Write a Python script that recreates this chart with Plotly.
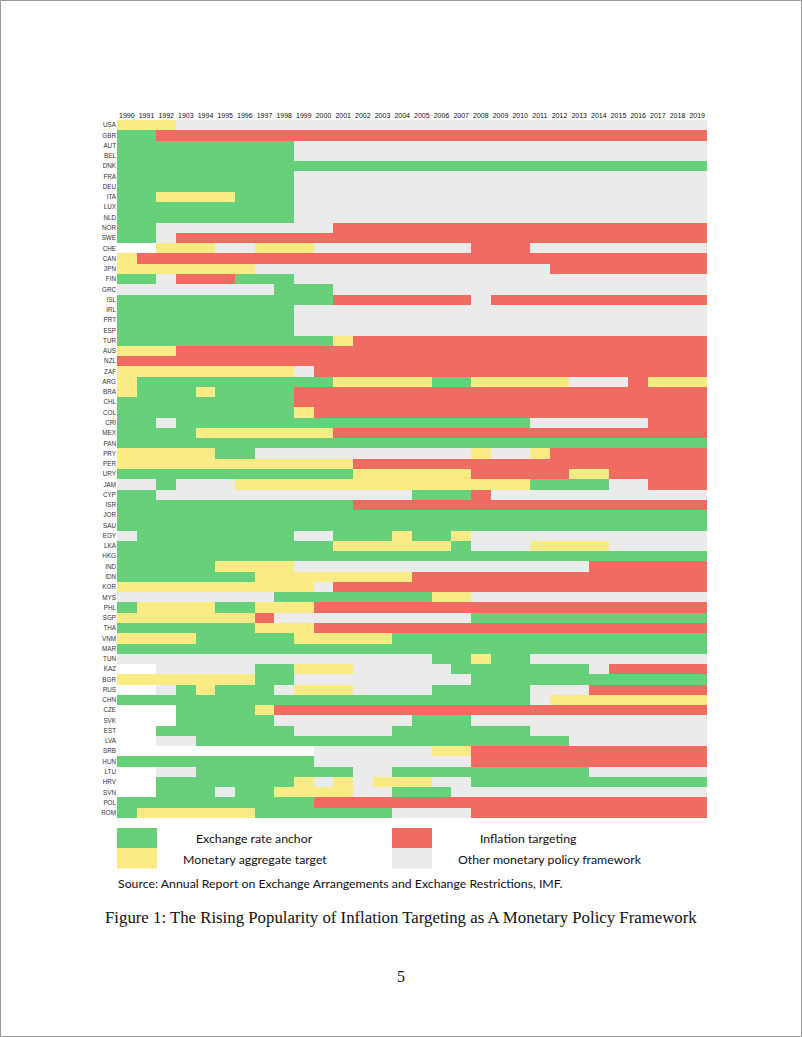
import plotly.graph_objects as go

years = ["1990", "1991", "1992", "1903", "1994", "1995", "1996", "1997", "1998", "1999",
         "2000", "2001", "2002", "2003", "2004", "2005", "2006", "2007", "2008", "2009",
         "2010", "2011", "2012", "2013", "2014", "2015", "2016", "2017", "2018", "2019"]

countries = ["USA", "GBR", "AUT", "BEL", "DNK", "FRA", "DEU", "ITA", "LUX", "NLD",
             "NOR", "SWE", "CHE", "CAN", "JPN", "FIN", "GRC", "ISL", "IRL", "PRT",
             "ESP", "TUR", "AUS", "NZL", "ZAF", "ARG", "BRA", "CHL", "COL", "CRI",
             "MEX", "PAN", "PRY", "PER", "URY", "JAM", "CYP", "ISR", "JOR", "SAU",
             "EGY", "LKA", "HKG", "IND", "IDN", "KOR", "MYS", "PHL", "SGP", "THA",
             "VNM", "MAR", "TUN", "KAZ", "BGR", "RUS", "CHN", "CZE", "SVK", "EST",
             "LVA", "SRB", "HUN", "LTU", "HRV", "SVN", "POL", "ROM"]

# Regime per country as (first year, regime) segments.
# E = exchange rate anchor, M = monetary aggregate target,
# I = inflation targeting, O = other framework, W = no data
regimes = {
    "USA": [(1990, "M"), (1993, "O")],
    "GBR": [(1990, "E"), (1992, "I")],
    "AUT": [(1990, "E"), (1999, "O")],
    "BEL": [(1990, "E"), (1999, "O")],
    "DNK": [(1990, "E")],
    "FRA": [(1990, "E"), (1999, "O")],
    "DEU": [(1990, "E"), (1999, "O")],
    "ITA": [(1990, "E"), (1992, "M"), (1996, "E"), (1999, "O")],
    "LUX": [(1990, "E"), (1999, "O")],
    "NLD": [(1990, "E"), (1999, "O")],
    "NOR": [(1990, "E"), (1992, "O"), (2001, "I")],
    "SWE": [(1990, "E"), (1992, "O"), (1993, "I")],
    "CHE": [(1990, "W"), (1992, "M"), (1995, "O"), (1997, "M"), (2000, "O"), (2008, "I"), (2011, "O")],
    "CAN": [(1990, "M"), (1991, "I")],
    "JPN": [(1990, "M"), (1997, "O"), (2012, "I")],
    "FIN": [(1990, "E"), (1992, "O"), (1993, "I"), (1996, "E"), (1999, "O")],
    "GRC": [(1990, "O"), (1998, "E"), (2001, "O")],
    "ISL": [(1990, "E"), (2001, "I"), (2008, "O"), (2009, "I")],
    "IRL": [(1990, "E"), (1999, "O")],
    "PRT": [(1990, "E"), (1999, "O")],
    "ESP": [(1990, "E"), (1999, "O")],
    "TUR": [(1990, "E"), (2001, "M"), (2002, "I")],
    "AUS": [(1990, "M"), (1993, "I")],
    "NZL": [(1990, "I")],
    "ZAF": [(1990, "M"), (1999, "O"), (2000, "I")],
    "ARG": [(1990, "M"), (1991, "E"), (2001, "M"), (2006, "E"), (2008, "M"), (2013, "O"), (2016, "I"), (2017, "M")],
    "BRA": [(1990, "M"), (1991, "E"), (1994, "M"), (1995, "E"), (1999, "I")],
    "CHL": [(1990, "E"), (1999, "I")],
    "COL": [(1990, "E"), (1999, "M"), (2000, "I")],
    "CRI": [(1990, "E"), (1992, "O"), (1993, "E"), (2011, "O"), (2017, "I")],
    "MEX": [(1990, "E"), (1994, "M"), (2001, "I")],
    "PAN": [(1990, "E")],
    "PRY": [(1990, "M"), (1995, "E"), (1997, "O"), (2008, "M"), (2009, "O"), (2011, "M"), (2012, "I")],
    "PER": [(1990, "M"), (2002, "I")],
    "URY": [(1990, "E"), (2002, "M"), (2008, "I"), (2013, "M"), (2015, "I")],
    "JAM": [(1990, "O"), (1992, "E"), (1993, "O"), (1996, "M"), (2011, "E"), (2015, "O"), (2017, "I")],
    "CYP": [(1990, "E"), (1992, "O"), (2005, "E"), (2008, "I"), (2009, "O")],
    "ISR": [(1990, "E"), (2002, "I")],
    "JOR": [(1990, "E")],
    "SAU": [(1990, "E")],
    "EGY": [(1990, "O"), (1991, "E"), (1999, "O"), (2001, "E"), (2004, "M"), (2005, "E"), (2007, "M"), (2008, "O")],
    "LKA": [(1990, "E"), (2001, "M"), (2007, "E"), (2008, "O"), (2011, "M"), (2015, "O")],
    "HKG": [(1990, "E")],
    "IND": [(1990, "E"), (1995, "M"), (1999, "O"), (2014, "I")],
    "IDN": [(1990, "E"), (1997, "M"), (2005, "I")],
    "KOR": [(1990, "M"), (2000, "O"), (2001, "I")],
    "MYS": [(1990, "O"), (1998, "E"), (2006, "M"), (2008, "O")],
    "PHL": [(1990, "E"), (1991, "M"), (1995, "E"), (1997, "M"), (2000, "I")],
    "SGP": [(1990, "M"), (1997, "I"), (1998, "O"), (2008, "E")],
    "THA": [(1990, "E"), (1997, "M"), (2000, "I")],
    "VNM": [(1990, "M"), (1994, "E"), (1999, "M"), (2004, "E")],
    "MAR": [(1990, "E")],
    "TUN": [(1990, "O"), (2006, "E"), (2008, "M"), (2009, "E"), (2011, "O")],
    "KAZ": [(1990, "W"), (1992, "O"), (1997, "E"), (1999, "M"), (2002, "O"), (2007, "E"), (2014, "O"), (2015, "I")],
    "BGR": [(1990, "M"), (1997, "E"), (1999, "O"), (2008, "E")],
    "RUS": [(1990, "W"), (1992, "O"), (1993, "E"), (1994, "M"), (1995, "E"), (1998, "O"), (1999, "M"), (2002, "O"), (2006, "E"), (2011, "O"), (2014, "I")],
    "CHN": [(1990, "E"), (2011, "O"), (2012, "M")],
    "CZE": [(1990, "W"), (1993, "E"), (1997, "M"), (1998, "I")],
    "SVK": [(1990, "W"), (1993, "E"), (1998, "O"), (2005, "E"), (2008, "O")],
    "EST": [(1990, "W"), (1992, "E"), (1999, "O"), (2004, "E"), (2011, "O")],
    "LVA": [(1990, "W"), (1992, "O"), (1994, "E"), (2013, "O")],
    "SRB": [(1990, "W"), (2000, "O"), (2006, "M"), (2008, "I")],
    "HUN": [(1990, "E"), (2000, "O"), (2008, "I")],
    "LTU": [(1990, "W"), (1992, "O"), (1994, "E"), (2002, "O"), (2004, "E"), (2014, "O")],
    "HRV": [(1990, "W"), (1992, "E"), (1999, "M"), (2000, "O"), (2001, "M"), (2002, "O"), (2003, "M"), (2006, "O"), (2008, "E")],
    "SVN": [(1990, "W"), (1992, "E"), (1995, "O"), (1996, "E"), (1998, "M"), (2002, "O"), (2004, "E"), (2007, "O")],
    "POL": [(1990, "E"), (2000, "I")],
    "ROM": [(1990, "E"), (1991, "M"), (1997, "E"), (2004, "O"), (2008, "I")],
}

legend_labels = ["Exchange rate anchor", "Monetary aggregate target",
                 "Inflation targeting", "Other monetary policy framework"]

GREEN = "#66D17A"
YELLOW = "#FAEB84"
RED = "#F06B61"
GREY = "#EBEBEB"

code_val = {"E": 0, "M": 1, "I": 2, "O": 3, "W": None}
first_year, last_year = 1990, 2019

z = []
for c in countries:
    segs = regimes[c]
    row = []
    for yr in range(first_year, last_year + 1):
        cur = None
        for start, code in segs:
            if yr >= start:
                cur = code
        row.append(code_val[cur])
    z.append(row)

colorscale = [[0.0, GREEN], [0.25, GREEN], [0.25, YELLOW], [0.5, YELLOW],
              [0.5, RED], [0.75, RED], [0.75, GREY], [1.0, GREY]]

fig = go.Figure(go.Heatmap(
    z=z, x=list(range(len(years))), y=list(range(len(countries))),
    colorscale=colorscale, zmin=-0.5, zmax=3.5, showscale=False,
    hoverongaps=False,
))

W, H = 802, 1037
L, R, T, B = 117, 707, 120, 818

def px(x):
    return (x - L) / (R - L)

def py(y):
    return (B - y) / (B - T)

fig.update_layout(
    width=W, height=H,
    margin=dict(l=L, r=W - R, t=T, b=H - B),
    paper_bgcolor="white", plot_bgcolor="white",
    font=dict(family="Liberation Sans", color="#222"),
    xaxis=dict(side="top", tickmode="array", tickvals=list(range(len(years))),
               ticktext=years, tickfont=dict(size=7, color="#111"),
               range=[-0.5, len(years) - 0.5], showgrid=False, zeroline=False,
               ticks="", showline=False, fixedrange=True),
    yaxis=dict(tickmode="array", tickvals=list(range(len(countries))),
               ticktext=countries, tickfont=dict(size=6.3, color="#333"),
               range=[len(countries) - 0.5, -0.5], showgrid=False, zeroline=False,
               ticks="", showline=False, fixedrange=True),
)

shapes = []
# page border
shapes.append(dict(type="rect", xref="paper", yref="paper",
                   x0=px(0.5), x1=px(W - 0.5), y0=py(0.5), y1=py(H - 0.5),
                   line=dict(color="#999", width=1), fillcolor="rgba(0,0,0,0)"))
# legend swatches
sw = [(117, 828, GREEN), (117, 848, YELLOW), (392, 828, RED), (392, 848, GREY)]
for x0, y0, col in sw:
    shapes.append(dict(type="rect", xref="paper", yref="paper",
                       x0=px(x0), x1=px(x0 + 40), y0=py(y0 + 20.5), y1=py(y0),
                       line=dict(width=0), fillcolor=col, layer="below"))
fig.update_layout(shapes=shapes)

ann = []
leg_pos = [(254.5, 838), (255, 859), (528, 838), (549.5, 859)]
for (x, y), t in zip(leg_pos, legend_labels):
    ann.append(dict(text=t, x=px(x), y=py(y), xref="paper", yref="paper",
                    showarrow=False, xanchor="center", yanchor="middle",
                    font=dict(family="Lato", size=12.3, color="#111")))
ann.append(dict(text="Source: Annual Report on Exchange Arrangements and Exchange Restrictions, IMF.",
                x=px(116), y=py(883), xref="paper", yref="paper", showarrow=False,
                xanchor="left", yanchor="middle",
                font=dict(family="Lato", size=12.3, color="#111")))
ann.append(dict(text="Figure 1: The Rising Popularity of Inflation Targeting as A Monetary Policy Framework",
                x=px(401), y=py(917), xref="paper", yref="paper", showarrow=False,
                xanchor="center", yanchor="middle",
                font=dict(family="Liberation Serif", size=16.8, color="#111")))
ann.append(dict(text="5", x=px(401), y=py(977), xref="paper", yref="paper", showarrow=False,
                xanchor="center", yanchor="middle",
                font=dict(family="Liberation Serif", size=16, color="#111")))
fig.update_layout(annotations=ann)

fig.write_html("out.html", config={"displayModeBar": False},
               post_script="document.body.style.margin='0';document.body.style.overflow='hidden';")
